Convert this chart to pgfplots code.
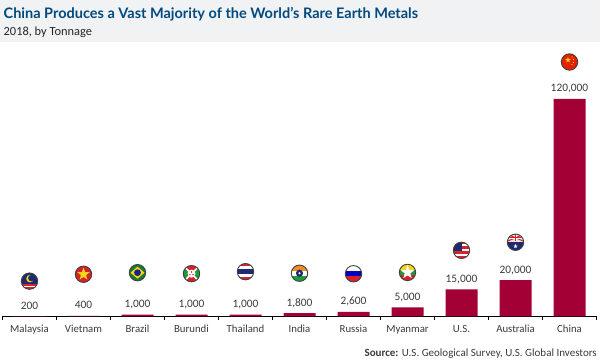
\documentclass[border=0pt]{standalone}
\usepackage{pgfplots}
\pgfplotsset{compat=1.18}
\usepackage{fontspec}
\setmainfont{Carlito}
\newfontfamily\titlefont{Lato}
\usetikzlibrary{shapes.geometric}
\definecolor{barred}{HTML}{A30036}
\definecolor{titleblue}{HTML}{004A80}
\definecolor{band}{HTML}{F1F2F4}
\definecolor{txt}{HTML}{3A3A3A}
\definecolor{fnavy}{HTML}{1E2A6E}
\definecolor{fred}{HTML}{D8222A}
\definecolor{fgreen}{HTML}{1E9A3C}
\definecolor{fyellow}{HTML}{F7D417}
\definecolor{forange}{HTML}{F28C28}
\newcommand\flag[3]{%
\begin{scope}[shift={(#1)},yshift=#2pt]
\begin{scope}
\clip (0,0) circle (8.2pt);
#3
\end{scope}
\draw[line width=0.9pt,black!75] (0,0) circle (8.2pt);
\end{scope}}
\newcommand\stripes[1]{%
\foreach \c/\a/\b in {#1}{\fill[\c] (-9pt,\a pt) rectangle (9pt,\b pt);}}
\newcommand\fstar[3]{\node[star,star points=5,star point ratio=2.4,fill=#1,inner sep=0pt,minimum size=#2pt,draw=none] at (#3) {};}
\begin{document}
\begin{tikzpicture}[x=1pt,y=1pt]
\path[use as bounding box] (0,0) rectangle (600,361);
\fill[band] (0,319) rectangle (600,361);
\node[anchor=base west,inner sep=0pt,text=titleblue,font=\titlefont\bfseries\fontsize{14.5}{14.5}\selectfont] at (3.5,342.5) {China Produces a Vast Majority of the World’s Rare Earth Metals};
\node[anchor=base west,inner sep=0pt,text=black!85,font=\fontsize{12.4}{12.4}\selectfont] at (3.5,325.5) {2018, by Tonnage};
\begin{axis}[
  at={(2.5pt,44.5pt)},anchor=south west,
  scale only axis,width=594pt,height=271.875pt,
  xmin=-0.5,xmax=10.5,ymin=0,ymax=150000,
  clip=false,
  axis x line=bottom,axis y line=none,
  axis line style={-,line width=0.8pt,black},
  xtick={0,...,10},
  xticklabels={Malaysia,Vietnam,Brazil,Burundi,Thailand,India,Russia,Myanmar,U.S.,Australia,China},
  major tick length=0pt,
  minor xtick={-0.5,0.5,1.5,2.5,3.5,4.5,5.5,6.5,7.5,8.5,9.5,10.5},
  minor tick length=3.5pt,
  xtick align=outside,
  tick style={line width=0.7pt,black},
  x tick label style={font=\fontsize{10.8}{10.8}\selectfont,text=txt,anchor=base,yshift=-16pt},
  ybar,bar width=32pt,
  nodes near coords,
  point meta=y,
  nodes near coords style={font=\fontsize{11.4}{11.4}\selectfont,text=txt,anchor=base,yshift=7pt,
    /pgf/number format/fixed,/pgf/number format/precision=0,/pgf/number format/1000 sep={,},/pgf/number format/assume math mode=true},
]
\addplot[fill=barred,draw=none] coordinates {(0,200)(1,400)(2,1000)(3,1000)(4,1000)(5,1800)(6,2600)(7,5000)(8,15000)(9,20000)(10,120000)};
\coordinate (f0) at (axis cs:0,200);
\coordinate (f1) at (axis cs:1,400);
\coordinate (f2) at (axis cs:2,1000);
\coordinate (f3) at (axis cs:3,1000);
\coordinate (f4) at (axis cs:4,1000);
\coordinate (f5) at (axis cs:5,1800);
\coordinate (f6) at (axis cs:6,2600);
\coordinate (f7) at (axis cs:7,5000);
\coordinate (f8) at (axis cs:8,15000);
\coordinate (f9) at (axis cs:9,20000);
\coordinate (f10) at (axis cs:10,120000);
\end{axis}
\flag{f0}{35}{\fill[fnavy] (-9pt,-9pt) rectangle (9pt,9pt);
  \stripes{fred/-3/-4.5,white/-4.5/-6,fred/-6/-9}
  \fill[fyellow] (0.5pt,2.5pt) circle (3.8pt); \fill[fnavy] (1.8pt,3pt) circle (3.2pt);}
\flag{f1}{41.5}{\fill[fred] (-9pt,-9pt) rectangle (9pt,9pt); \fstar{fyellow}{13}{0,0}}
\flag{f2}{42}{\fill[fgreen!80!black] (-9pt,-9pt) rectangle (9pt,9pt);
  \fill[fyellow] (-7pt,0)--(0,6pt)--(7pt,0)--(0,-6pt)--cycle; \fill[fnavy!80!blue] (0,0) circle (3.4pt);}
\flag{f3}{41}{\fill[fred] (-9pt,-9pt) rectangle (9pt,9pt);
  \fill[fgreen] (-9pt,-9pt)--(0,0)--(-9pt,9pt)--cycle; \fill[fgreen] (9pt,-9pt)--(0,0)--(9pt,9pt)--cycle;
  \draw[white,line width=1.6pt] (-8pt,-8pt)--(8pt,8pt) (-8pt,8pt)--(8pt,-8pt);
  \fill[white] (0,0) circle (4pt); \fill[fred] (0,1.7pt) circle (0.8pt) (-1.5pt,-1pt) circle (0.8pt) (1.5pt,-1pt) circle (0.8pt);}
\flag{f4}{43}{\stripes{fred/5.3/9,white/2.7/5.3,fnavy/-2.7/2.7,white/-5.3/-2.7,fred/-9/-5.3}}
\flag{f5}{40}{\stripes{forange/2.7/9,white/-2.7/2.7,fgreen/-9/-2.7}
  \fill[fnavy] (0,0) circle (3.6pt); \fill[white] (0,0) circle (1.2pt);}
\flag{f6}{38}{\stripes{white/2.7/9,blue!75!black/-2.7/2.7,fred/-9/-2.7}}
\flag{f7}{35}{\stripes{fyellow/2.7/9,fgreen/-2.7/2.7,fred/-9/-2.7}\fstar{white}{14}{0,0}}
\flag{f8}{39}{\stripes{fred/6.5/9,white/4/6.5,fred/1.5/4,white/-1/1.5,fred/-3.5/-1,white/-6/-3.5,fred/-9/-6}
  \fill[fnavy] (-9pt,-0.5pt) rectangle (0.5pt,9pt);}
\flag{f9}{38}{\fill[fnavy] (-9pt,-9pt) rectangle (9pt,9pt);
  \fill[white!85!fred] (-9pt,0.5pt) rectangle (9pt,9pt);
  \draw[fred,line width=1pt] (-8pt,8pt)--(8pt,1pt) (-8pt,1pt)--(8pt,8pt);
  \draw[white,line width=2pt] (0,1pt)--(0,9pt) (-9pt,4.5pt)--(9pt,4.5pt);
  \draw[fred,line width=1.2pt] (0,1pt)--(0,9pt) (-9pt,4.5pt)--(9pt,4.5pt);
  \fstar{white}{4.5}{0,-4}}
\flag{f10}{37}{\fill[red!70!orange!90!black] (-9pt,-9pt) rectangle (9pt,9pt);
  \fstar{fyellow}{6}{-1.5,2}\fill[fyellow] (2.5pt,5pt) circle (0.7pt) (4pt,2.5pt) circle (0.7pt) (4pt,-0.5pt) circle (0.7pt) (2.5pt,-2.5pt) circle (0.7pt);}
\node[anchor=base east,inner sep=0pt,text=txt,font=\fontsize{11}{11}\selectfont] at (597,4.5) {\textbf{Source:} U.S. Geological Survey, U.S. Global Investors};
\end{tikzpicture}
\end{document}
